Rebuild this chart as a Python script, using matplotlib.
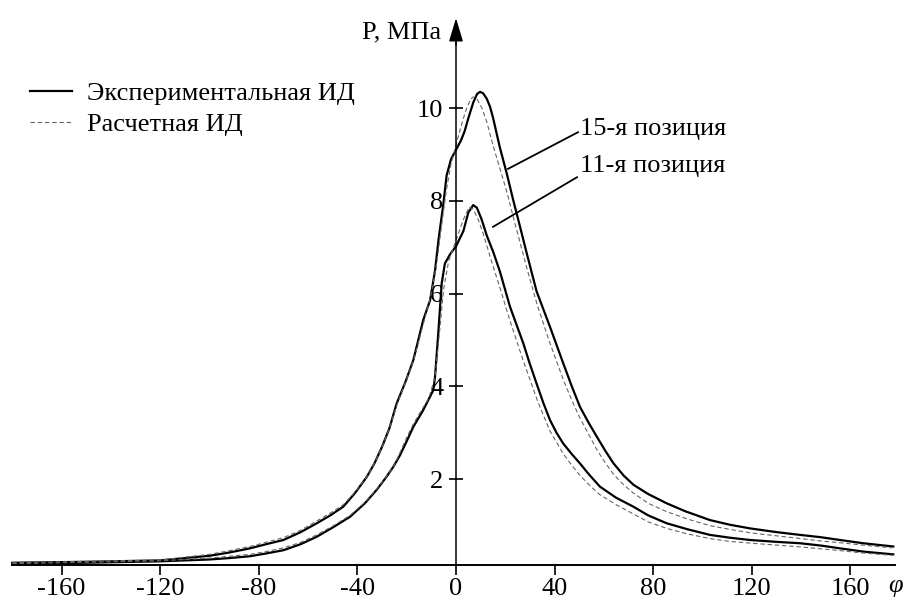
import numpy as np
import matplotlib
matplotlib.use('Agg')
import matplotlib.pyplot as plt

plt.rcParams['font.family'] = ['Liberation Serif', 'DejaVu Serif']
plt.rcParams['axes.unicode_minus'] = False

# 15-я позиция, эксперимент
x15_exp = [-180, -150, -120, -100, -92, -83.6, -77, -70, -63, -56.5, -51, -45.7, -41, -36.2, -33,
           -30, -27, -24.1, -20.5, -17.3, -15.3, -13.3, -10.5, -8.5, -7, -5.2, -3.8, -2, 0, 2, 3.5,
           5, 7, 8.5, 9.7, 11, 12.5, 13.8, 15, 16.5, 17.8, 20.6, 23.2, 26, 28.7, 32.7, 38.1, 43.5,
           47, 50.3, 54, 57.1, 60.5, 63.8, 68, 72, 78, 85.5, 93, 103, 111, 119.3, 130, 139.6, 148,
           155.8, 165.2, 177.4]
y15_exp = [0.2, 0.22, 0.25, 0.35, 0.42, 0.51, 0.6, 0.69, 0.86, 1.05, 1.22, 1.41, 1.7, 2.05, 2.35,
           2.7, 3.1, 3.63, 4.1, 4.57, 5.0, 5.43, 5.86, 6.5, 7.2, 7.9, 8.55, 8.9, 9.1, 9.3, 9.5,
           9.78, 10.12, 10.3, 10.35, 10.32, 10.2, 10.03, 9.8, 9.45, 9.15, 8.59, 8.02, 7.44, 6.87,
           6.05, 5.29, 4.5, 4.0, 3.56, 3.2, 2.92, 2.62, 2.35, 2.08, 1.88, 1.68, 1.48, 1.31, 1.12,
           1.02, 0.94, 0.86, 0.8, 0.75, 0.69, 0.62, 0.55]

# 15-я позиция, расчет
x15_calc = [-180, -120, -100, -92, -83.6, -77, -70, -63, -56.5, -51, -45.7, -41, -36.2, -33, -30,
            -27, -24, -20.5, -17, -13, -10, -8, -6, -4, -2, 0, 2, 4, 6, 7, 8.5, 10.5, 12.5, 15,
            17.8, 20.6, 23, 26, 29, 33, 38, 43.5, 47, 50, 54, 57, 60.5, 64, 68, 72, 78, 85.5, 94,
            103, 111, 120, 130, 140, 148, 156, 165, 177]
y15_calc = [0.2, 0.26, 0.38, 0.46, 0.55, 0.64, 0.74, 0.9, 1.1, 1.27, 1.45, 1.72, 2.05, 2.35, 2.7,
            3.1, 3.6, 4.1, 4.6, 5.4, 6.0, 6.6, 7.4, 8.2, 8.8, 9.2, 9.6, 9.95, 10.2, 10.24, 10.2,
            10.0, 9.7, 9.2, 8.7, 8.2, 7.7, 7.1, 6.5, 5.75, 4.95, 4.15, 3.7, 3.35, 2.95, 2.65, 2.36,
            2.1, 1.88, 1.7, 1.48, 1.3, 1.14, 1.0, 0.92, 0.84, 0.78, 0.72, 0.67, 0.63, 0.58, 0.52]

# 11-я позиция, эксперимент
x11_exp = [-180, -150, -120, -100, -92, -83.6, -77, -70, -63, -56.5, -50, -43, -37, -32.2, -28.5,
           -25.4, -22.7, -20, -17.3, -13.3, -9.2, -8.5, -7.2, -5.8, -4.5, -2.4, 0, 3, 5, 7, 8.5,
           10.4, 12.5, 15.1, 17.8, 21.9, 27.3, 30, 32.7, 35.4, 38.1, 40.8, 43.5, 47, 50.3, 54,
           58.4, 65, 71.9, 78, 85.5, 94, 103, 111, 119.3, 130, 139.6, 148, 155.8, 165.2, 177.4]
y11_exp = [0.18, 0.2, 0.23, 0.27, 0.3, 0.34, 0.4, 0.47, 0.6, 0.76, 0.96, 1.19, 1.48, 1.77, 2.03,
           2.27, 2.52, 2.82, 3.13, 3.49, 3.92, 4.21, 5.14, 6.22, 6.65, 6.85, 7.02, 7.35, 7.75,
           7.91, 7.85, 7.6, 7.25, 6.9, 6.48, 5.72, 4.93, 4.48, 4.06, 3.65, 3.28, 3.0, 2.77, 2.54,
           2.34, 2.1, 1.84, 1.6, 1.41, 1.22, 1.05, 0.92, 0.8, 0.74, 0.69, 0.65, 0.62, 0.57, 0.51,
           0.44, 0.38]

# 11-я позиция, расчет
x11_calc = [-180, -120, -100, -92, -83.6, -77, -70, -63, -56.5, -50, -43, -37, -32, -28.5, -25,
            -22.5, -20, -17.5, -15, -11, -8.5, -7, -5, -3, -1, 1, 3, 5.4, 7, 9, 11, 13, 15, 18, 22,
            27, 33, 38, 43.5, 47, 50, 54, 58, 65, 72, 78, 85.5, 94, 103, 111, 120, 130, 140, 148,
            156, 165, 177]
y11_calc = [0.18, 0.24, 0.3, 0.34, 0.38, 0.44, 0.52, 0.64, 0.8, 0.99, 1.22, 1.5, 1.8, 2.04, 2.3,
            2.6, 2.9, 3.17, 3.4, 3.75, 4.2, 5.0, 6.1, 6.7, 7.0, 7.3, 7.6, 7.87, 7.82, 7.6, 7.3,
            6.95, 6.6, 6.1, 5.4, 4.6, 3.7, 3.05, 2.55, 2.3, 2.1, 1.88, 1.68, 1.45, 1.25, 1.08,
            0.94, 0.82, 0.72, 0.66, 0.62, 0.58, 0.54, 0.5, 0.46, 0.41, 0.36]

x_ticks = [-160, -120, -80, -40, 0, 40, 80, 120, 160]
y_ticks = [2, 4, 6, 8, 10]

fs = 19

fig = plt.figure(figsize=(9.11, 6.01), dpi=100)
ax = fig.add_axes([0, 0, 1, 1])
ax.set_xlim(-185, 184.6)
ax.set_ylim(-0.625, 12.33)

solid_kw = dict(color='black', lw=1.6, solid_joinstyle='round')
dash_kw = dict(color='#666666', lw=0.8, linestyle=(0, (4, 2.5)))

l_exp, = ax.plot(x15_exp, y15_exp, **solid_kw)
ax.plot(x11_exp, y11_exp, **solid_kw)
l_calc, = ax.plot(x15_calc, y15_calc, **dash_kw)
ax.plot(x11_calc, y11_calc, **dash_kw)

# оси через начало координат
for s in ['top', 'right']:
    ax.spines[s].set_visible(False)
ax.spines['left'].set_position(('data', 0))
ax.spines['left'].set_bounds(0.15, 11.7)
ax.spines['bottom'].set_position(('data', 0.15))
ax.spines['bottom'].set_bounds(-180, 178)
ax.spines['left'].set_linewidth(1.1)
ax.spines['bottom'].set_linewidth(1.4)

ax.annotate('', xy=(0, 12.0), xytext=(0, 11.3),
            arrowprops=dict(arrowstyle='-|>,head_length=0.6,head_width=0.18',
                            mutation_scale=24, color='black', lw=1.1))

ax.set_xticks(x_ticks)
ax.set_yticks(y_ticks)
ax.tick_params(axis='x', direction='out', length=7, width=1.2, pad=2, labelsize=fs)
ax.tick_params(axis='y', direction='inout', length=10, width=1.2, pad=4, labelsize=fs)

ax.text(-6.1, 11.64, 'P, МПа', fontsize=fs, ha='right', va='center')
ax.text(178.5, -0.3, 'φ', fontsize=fs, style='italic', ha='center', va='center')

# подписи кривых
ax.plot([21.1, 49.5], [8.69, 9.48], color='black', lw=1.3)
ax.plot([15.0, 49.1], [7.44, 8.51], color='black', lw=1.3)
ax.text(50.5, 9.56, '15-я позиция', fontsize=fs, ha='left', va='center')
ax.text(50.5, 8.75, '11-я позиция', fontsize=fs, ha='left', va='center')

ax.legend([l_exp, l_calc], ['Экспериментальная ИД', 'Расчетная ИД'],
          loc='upper left', bbox_to_anchor=(30 / 911, 1 - 82 / 601), frameon=False,
          handlelength=1.6, handletextpad=0.55, borderpad=0, borderaxespad=0,
          labelspacing=0.27, fontsize=fs)

fig.savefig('out.png', dpi=100)
